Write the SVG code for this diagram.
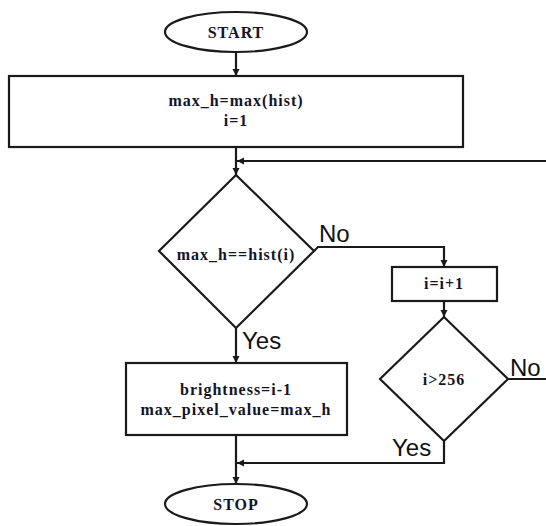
<svg xmlns="http://www.w3.org/2000/svg" width="546" height="526" viewBox="0 0 546 526">
<defs>
<style>
.shape{fill:#fff;stroke:#1a1a1a;stroke-width:2.2}
.t{font-family:"Liberation Serif","Times New Roman",serif;font-weight:bold;font-size:16px;letter-spacing:1px;fill:#141428;text-anchor:middle}
.lbl{font-family:"Liberation Sans",Arial,sans-serif;font-size:24px;fill:#111}
.c{fill:none;stroke:#1a1a1a;stroke-width:2.2}
</style>
<marker id="ah" viewBox="0 0 10 10" refX="10" refY="5" markerWidth="7" markerHeight="8" markerUnits="userSpaceOnUse" orient="auto">
<path d="M0,0 L10,5 L0,10 Z" fill="#1a1a1a"/>
</marker>
</defs>
<rect width="546" height="526" fill="#fff"/>
<g id="connectors">
<path class="c" d="M236,52 V76" marker-end="url(#ah)"/>
<path class="c" d="M236,147 V175" marker-end="url(#ah)"/>
<path class="c" d="M546,161 H237" marker-end="url(#ah)"/>
<path class="c" d="M314,251 L318,247 H444 V267" marker-end="url(#ah)"/>
<path class="c" d="M444,301 V317" marker-end="url(#ah)"/>
<path class="c" d="M508,379 H546"/>
<path class="c" d="M444,441 V463 H237" marker-end="url(#ah)"/>
<path class="c" d="M236,328 V363" marker-end="url(#ah)"/>
<path class="c" d="M236,435 V484" marker-end="url(#ah)"/>
<text class="lbl" x="319" y="242">No</text>
<text class="lbl" x="242" y="349">Yes</text>
<text class="lbl" x="510" y="376">No</text>
<text class="lbl" x="392" y="456">Yes</text>
</g>
<g id="start">
<ellipse class="shape" cx="236" cy="32" rx="71" ry="20"/>
<text class="t" x="236" y="38">START</text>
</g>
<g id="init">
<rect class="shape" x="9" y="76" width="454" height="71"/>
<text class="t" x="236" y="106">max_h=max(hist)</text>
<text class="t" x="236" y="126">i=1</text>
</g>
<g id="check">
<polygon class="shape" points="236,175 314,251 236,328 159,251"/>
<text class="t" x="236" y="260">max_h==hist(i)</text>
</g>
<g id="inc">
<rect class="shape" x="392" y="267" width="105" height="34"/>
<text class="t" x="444" y="289">i=i+1</text>
</g>
<g id="limit">
<polygon class="shape" points="444,317 508,379 444,441 380,379"/>
<text class="t" x="444" y="385">i&gt;256</text>
</g>
<g id="result">
<rect class="shape" x="126" y="363" width="221" height="72"/>
<text class="t" x="236" y="395">brightness=i-1</text>
<text class="t" x="236" y="415">max_pixel_value=max_h</text>
</g>
<g id="stop">
<ellipse class="shape" cx="236" cy="504" rx="71" ry="20"/>
<text class="t" x="236" y="510">STOP</text>
</g>
</svg>
